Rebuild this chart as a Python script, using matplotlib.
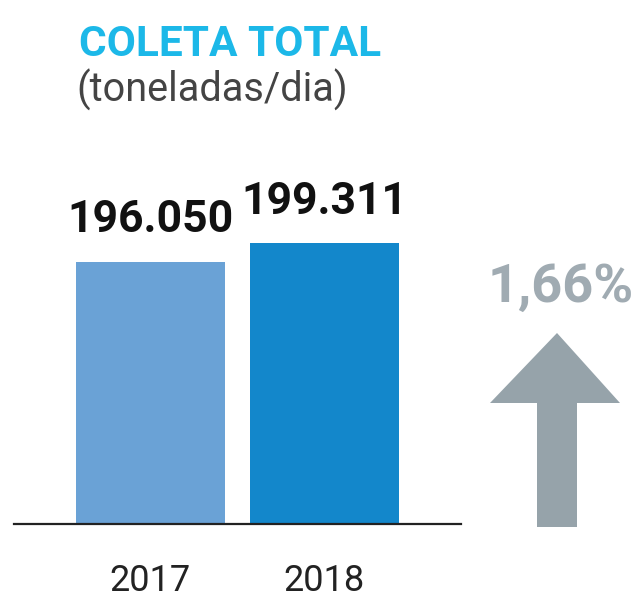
import matplotlib
matplotlib.use("Agg")
import matplotlib.pyplot as plt
from matplotlib.patches import Polygon

years = ["2017", "2018"]
values = [196050, 199311]
value_labels = ["196.050", "199.311"]
change_label = "1,66%"
title = "COLETA TOTAL"
subtitle = "(toneladas/dia)"

plt.rcParams['font.family'] = ['Roboto', 'DejaVu Sans']

W, H = 641, 600
fig = plt.figure(figsize=(W / 100, H / 100), dpi=100)

def fx(px):
    return px / W

def fy(py):
    return 1 - py / H

ax = fig.add_axes([fx(14), fy(524), fx(461) - fx(14), fy(124) - fy(524)])
xs = [0, 1]
colors = ["#6aa2d6", "#1387cb"]
ax.bar(xs, values, width=0.856, color=colors, bottom=0)
ax.set_xlim(-0.784, 1.787)
ax.set_ylim(150000, 220300)
ax.axhline(150000, color="#222222", lw=1.6, zorder=5, clip_on=False)
for s in ax.spines.values():
    s.set_visible(False)
ax.set_xticks([])
ax.set_yticks([])

for x, v, lab in zip(xs, values, value_labels):
    ax.annotate(lab, (x, v), xytext=(0, 15), textcoords="offset points",
                ha="center", va="bottom", fontsize=32, fontweight="bold",
                color="#111111")
for x, lab in zip(xs, years):
    ax.annotate(lab, (x, 150000), xytext=(0, -54), textcoords="offset points",
                ha="center", va="bottom", fontsize=26, color="#222222")

fig.text(fx(79), fy(56), title, fontsize=30.5, fontweight="bold",
         color="#1cb8e8", ha="left", va="baseline")
fig.text(fx(76), fy(102), subtitle, fontsize=28.5, color="#444444",
         ha="left", va="baseline")

fig.text(fx(561), fy(302), change_label, fontsize=39, fontweight="bold",
         color="#a0abb2", ha="center", va="baseline")

arrow_color = "#96a3aa"
cx = 557
pts = [(cx, 333), (620, 403), (577, 403), (577, 527), (537, 527),
       (537, 403), (490, 403)]
fig.patches.append(Polygon([(fx(a), fy(b)) for a, b in pts], closed=True,
                           transform=fig.transFigure, facecolor=arrow_color,
                           edgecolor="none"))

fig.savefig("out.png", dpi=100)
